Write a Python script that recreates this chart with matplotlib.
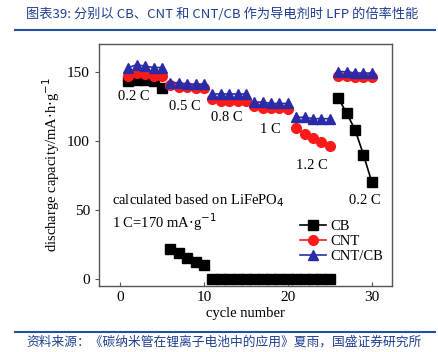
import matplotlib.pyplot as plt
import numpy as np

plt.rcParams['font.family'] = ['Liberation Serif', 'DejaVu Serif']

# cycle segments (rates 0.2, 0.5, 0.8, 1, 1.2, 0.2 C)
seg_cycles = [[1, 2, 3, 4, 5], [6, 7, 8, 9, 10], [11, 12, 13, 14, 15],
              [16, 17, 18, 19, 20], [21, 22, 23, 24, 25], [26, 27, 28, 29, 30]]

cb_cycles = [[1, 2, 3, 4, 5], [6, 7, 8, 9, 10],
             list(range(11, 26)), [26, 27, 28, 29, 30]]
cb_vals = [[143, 144, 144, 143, 138], [22, 19, 15, 12, 10],
           [0] * 15, [131, 120, 108, 90, 70]]

cnt_vals = [[147, 149, 148, 147, 147], [140, 139, 139, 138, 138],
            [130, 129, 129, 129, 129], [125, 124, 124, 124, 123],
            [109, 105, 102, 99, 96], [147, 147, 146, 146, 146]]

cntcb_vals = [[153, 155, 154, 153, 153], [142, 142, 141, 141, 141],
              [134, 134, 134, 134, 134], [128, 128, 127, 127, 127],
              [117, 117, 116, 116, 116], [150, 150, 149, 149, 149]]

rate_labels = ['0.2 C', '0.5 C', '0.8 C', '1 C', '1.2 C', '0.2 C']
rate_pos = [(1.6, 132), (7.7, 125), (12.7, 117), (17.9, 108.5), (22.9, 82), (29.2, 57)]

fig = plt.figure(figsize=(4.39, 3.52), dpi=100)
ax = fig.add_axes([0.2255, 0.1875, 0.6674, 0.6875])

black = '#000000'
red = '#ff1a1a'
blue = '#2b2ba8'

for i in range(len(cb_cycles)):
    ax.plot(cb_cycles[i], cb_vals[i], '-s', color=black, ms=6.5, lw=1.2,
            label='CB' if i == 0 else None, zorder=2)
for i in range(len(seg_cycles)):
    ax.plot(seg_cycles[i], cnt_vals[i], '-o', color=red, ms=7, lw=1.2,
            label='CNT' if i == 0 else None, zorder=3)
for i in range(len(seg_cycles)):
    ax.plot(seg_cycles[i], cntcb_vals[i], '-^', color=blue, ms=7.5, lw=1.2,
            label='CNT/CB' if i == 0 else None, zorder=4)

for lab, (x, y) in zip(rate_labels, rate_pos):
    ax.text(x, y, lab, fontsize=10.5, ha='center', va='center')

ax.text(-1, 57, 'calculated based on LiFePO$_4$', fontsize=10.5, va='center')
ax.text(-1, 41, '1 C=170 mA$\\cdot$g$^{-1}$', fontsize=10.5, va='center')

ax.set_xlim(-2.5, 32.4)
ax.set_ylim(-5, 170)
ax.set_xticks([0, 10, 20, 30])
ax.set_yticks([0, 50, 100, 150])
ax.tick_params(labelsize=11, length=3, color='#555555')
ax.tick_params(axis='x', direction='in')
for s in ax.spines.values():
    s.set_color('#555555')
    s.set_linewidth(1)

ax.set_xlabel('cycle number', fontsize=10.5, labelpad=2)
ax.set_ylabel('discharge capacity/mA$\\cdot$h$\\cdot$g$^{-1}$', fontsize=10.5, labelpad=4)

leg = ax.legend(loc='lower right', bbox_to_anchor=(1.0, 0.06), frameon=False,
                fontsize=10.5, handlelength=1.8, handletextpad=0.3,
                labelspacing=0.1, borderaxespad=0.2)

# title and footer
tcol = '#1f3f8f'
fig.text(0.06, 0.96, '图表39: 分别以 CB、CNT 和 CNT/CB 作为导电剂时 LFP 的倍率性能',
         fontsize=9.5, color=tcol, va='center',
         family=['Noto Sans CJK SC', 'DejaVu Sans'])
fig.add_artist(plt.Line2D([0.035, 0.99], [0.915, 0.915], color='#2050a0', lw=1.5))
fig.add_artist(plt.Line2D([0.035, 0.99], [0.057, 0.057], color='#2050a0', lw=1.5))
fig.text(0.06, 0.028, '资料来源：《碳纳米管在锂离子电池中的应用》夏雨，国盛证券研究所',
         fontsize=9.2, color=tcol, va='center',
         family=['Noto Sans CJK SC', 'DejaVu Sans'])

fig.savefig('out.png', dpi=100)
